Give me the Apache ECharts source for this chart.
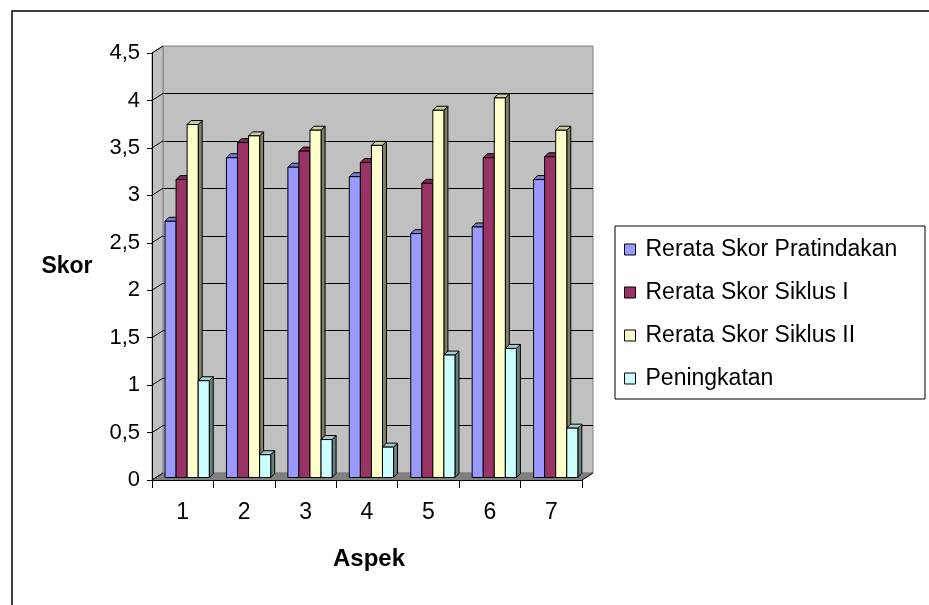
<!DOCTYPE html>
<html>
<head>
<meta charset="utf-8">
<script src="https://cdn.jsdelivr.net/npm/echarts@6/dist/echarts.min.js"></script>
<style>
html,body{margin:0;padding:0;background:#fff;}
#main{width:929px;height:605px;}
</style>
</head>
<body>
<div id="main"></div>
<script>
// ---- data ----
const categories = ['1', '2', '3', '4', '5', '6', '7'];
const seriesNames = ['Rerata Skor Pratindakan', 'Rerata Skor Siklus I', 'Rerata Skor Siklus II', 'Peningkatan'];
const pratindakan = [2.70, 3.37, 3.27, 3.17, 2.57, 2.64, 3.14];
const siklus1     = [3.14, 3.53, 3.44, 3.32, 3.10, 3.37, 3.38];
const siklus2     = [3.72, 3.60, 3.66, 3.50, 3.87, 4.00, 3.66];
const peningkatan = [1.02, 0.24, 0.40, 0.32, 1.29, 1.36, 0.52];
const yTicks = [0, 0.5, 1, 1.5, 2, 2.5, 3, 3.5, 4, 4.5];
const yAxisTitle = 'Skor';
const xAxisTitle = 'Aspek';

// ---- styling / layout ----
const W = 929, H = 605;
const FONT = 'Liberation Sans, Arial, sans-serif';
const front = {left: 152, top: 53, right: 582, bottom: 480};
const depth = {dx: 11, dy: -7};
const back = {left: front.left + depth.dx, top: front.top + depth.dy, right: front.right + depth.dx, bottom: front.bottom + depth.dy};
const palette = [
  {front: '#9999FF', top: '#7A7ACC', side: '#4D4D80'},
  {front: '#993366', top: '#7A2952', side: '#4D1A33'},
  {front: '#FFFFCC', top: '#CCCCA3', side: '#808066'},
  {front: '#CCFFFF', top: '#A3CCCC', side: '#668080'}
];
const allValues = [pratindakan, siklus1, siklus2, peningkatan];
const yMin = yTicks[0], yMax = yTicks[yTicks.length - 1], yStep = yTicks[1] - yTicks[0];

function makeRender(k) {
  const c = palette[k];
  return function (params, api) {
    const xi = api.value(0), v = api.value(1);
    const base = api.coord([xi, 0]);
    const top = api.coord([xi, v]);
    const band = api.size([1, 0])[0];
    const w = band * 0.18;
    const x0 = base[0] - 0.288 * band + k * w;
    const yb = base[1] - 2.5, yt = top[1] - 2.5;
    const dx = 4, dy = -4;
    const st = {stroke: '#000', lineWidth: 1};
    return {
      type: 'group',
      children: [
        {type: 'polygon', shape: {points: [[x0 + w, yt], [x0 + w + dx, yt + dy], [x0 + w + dx, yb + dy], [x0 + w, yb]]},
         style: Object.assign({fill: c.side}, st)},
        {type: 'polygon', shape: {points: [[x0, yt], [x0 + dx, yt + dy], [x0 + w + dx, yt + dy], [x0 + w, yt]]},
         style: Object.assign({fill: c.top}, st)},
        {type: 'rect', shape: {x: x0, y: yt, width: w, height: yb - yt},
         style: Object.assign({fill: c.front}, st)}
      ]
    };
  };
}

const series = seriesNames.map((name, k) => ({
  name: name,
  type: 'custom',
  xAxisIndex: 1,
  yAxisIndex: 1,
  z: 3,
  renderItem: makeRender(k),
  itemStyle: {color: palette[k].front, borderColor: '#000', borderWidth: 1},
  encode: {x: 0, y: 1},
  data: allValues[k].map((v, i) => [i, v])
}));

// decoration: side wall, floor, connectors
const graphics = [];
graphics.push({type: 'rect', z: 0, shape: {x: 12, y: 11, width: 1000, height: 700},
  style: {fill: 'none', stroke: '#000', lineWidth: 1.5}});
graphics.push({type: 'polygon', z: 1, shape: {points: [[front.left, front.top], [back.left, back.top], [back.left, back.bottom], [front.left, front.bottom]]},
  style: {fill: '#C0C0C0', stroke: '#808080', lineWidth: 1}});
graphics.push({type: 'polygon', z: 1, shape: {points: [[front.left, front.bottom], [back.left, back.bottom], [back.right, back.bottom], [front.right, front.bottom]]},
  style: {fill: '#808080', stroke: '#808080', lineWidth: 1}});
yTicks.forEach(t => {
  const y = front.bottom - (t - yMin) / (yMax - yMin) * (front.bottom - front.top);
  graphics.push({type: 'line', z: 2, shape: {x1: front.left, y1: y, x2: back.left, y2: y + depth.dy},
    style: {stroke: '#000', lineWidth: 1}});
});
graphics.push({type: 'line', z: 2, shape: {x1: front.right, y1: front.bottom, x2: back.right, y2: back.bottom},
  style: {stroke: '#000', lineWidth: 1}});
// legend box
graphics.push({type: 'rect', z: 1, shape: {x: 615, y: 226, width: 310, height: 173},
  style: {fill: '#fff', stroke: '#000', lineWidth: 1}});
// legend icon outlines
// axis titles
graphics.push({type: 'text', z: 5, style: {text: yAxisTitle, x: 67, y: 267, align: 'center', verticalAlign: 'middle',
  font: 'bold 23px ' + FONT, fill: '#000'}});
graphics.push({type: 'text', z: 5, style: {text: xAxisTitle, x: 369, y: 559, align: 'center', verticalAlign: 'middle',
  font: 'bold 24px ' + FONT, fill: '#000'}});

const option = {
  animation: false,
  backgroundColor: '#fff',
  textStyle: {fontFamily: FONT},
  grid: [
    {left: back.left, top: back.top, right: W - back.right, bottom: H - back.bottom,
     show: true, backgroundColor: '#C0C0C0', borderColor: '#808080', borderWidth: 1, containLabel: false},
    {left: front.left, top: front.top, right: W - front.right, bottom: H - front.bottom, containLabel: false}
  ],
  xAxis: [
    {type: 'category', gridIndex: 0, data: categories, show: false},
    {type: 'category', gridIndex: 1, data: categories, z: 6,
     axisLine: {show: true, lineStyle: {color: '#000', width: 1}},
     axisTick: {show: true, interval: 0, alignWithLabel: false, length: 8, lineStyle: {color: '#000'}},
     axisLabel: {color: '#000', fontSize: 23, fontFamily: FONT, margin: 21, interval: 0},
     splitLine: {show: false}}
  ],
  yAxis: [
    {type: 'value', gridIndex: 0, min: yMin, max: yMax, interval: yStep,
     axisLine: {show: false}, axisTick: {show: false}, axisLabel: {show: false},
     splitLine: {show: true, showMaxLine: false, lineStyle: {color: '#000', width: 1}}},
    {type: 'value', gridIndex: 1, min: yMin, max: yMax, interval: yStep, z: 6,
     axisLine: {show: true, lineStyle: {color: '#000', width: 1}},
     axisTick: {show: true, length: 5, lineStyle: {color: '#000'}},
     axisLabel: {color: '#000', fontSize: 22, fontFamily: FONT, margin: 12,
       formatter: v => String(v).replace('.', ',')},
     splitLine: {show: false}}
  ],
  legend: {
    orient: 'vertical', left: 624, top: 238, padding: 0, itemGap: 20,
    itemWidth: 11, itemHeight: 11, z: 5,
    data: seriesNames.map((n, k) => ({name: n, icon: 'rect',
      itemStyle: {color: palette[k].front, borderColor: '#000', borderWidth: 1}})),
    textStyle: {color: '#000', fontSize: 23, lineHeight: 23, fontFamily: FONT, padding: [0, 0, 0, 5]}
  },
  graphic: graphics,
  series: series
};

const chart = echarts.init(document.getElementById('main'), null, {renderer: 'canvas'});
chart.setOption(option);
</script>
</body>
</html>
